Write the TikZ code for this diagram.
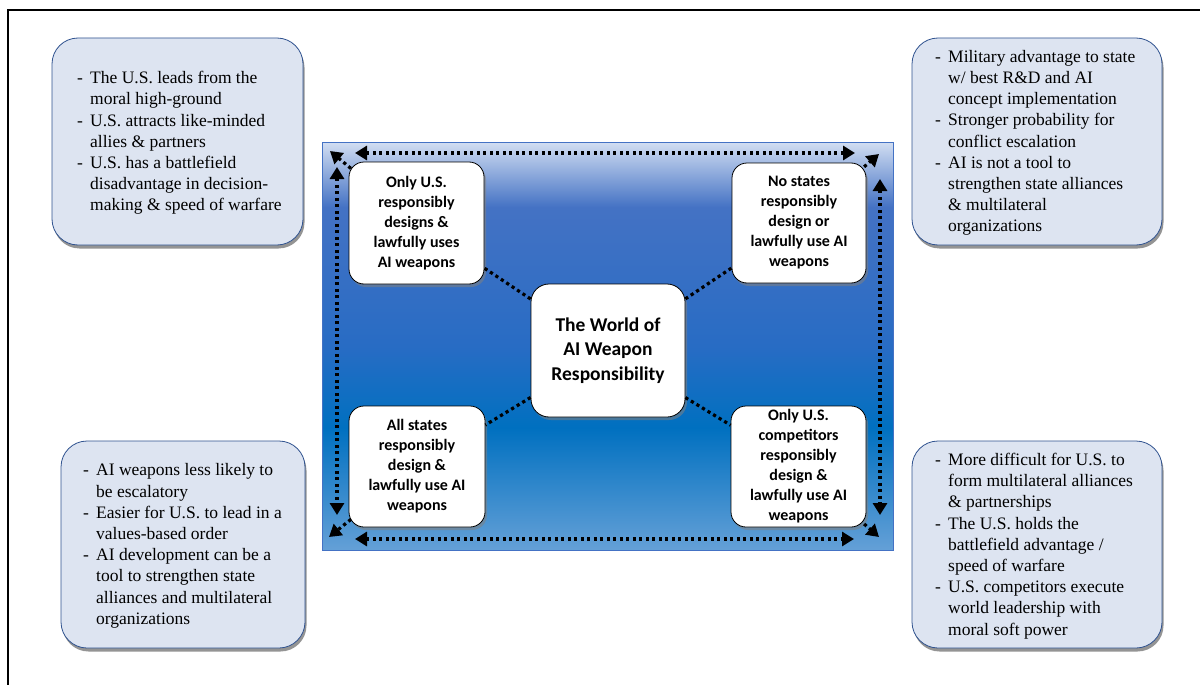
\documentclass[tikz,border=0pt]{standalone}
\usepackage{fontspec}
\setmainfont{Liberation Serif}
\newfontfamily\notefont{Liberation Serif}
\newfontfamily\boxfont{Carlito}
\usepackage{xcolor}
\usepackage{tikz}
\usetikzlibrary{shapes,positioning,arrows.meta,shadows}

\definecolor{notefill}{RGB}{221,228,241}
\definecolor{noteline}{RGB}{47,82,143}
\definecolor{panelbot}{RGB}{100,160,215}
\definecolor{paneldeep}{RGB}{0,112,192}
\definecolor{panelmid}{RGB}{40,108,196}
\definecolor{panelblue}{RGB}{68,114,196}
\definecolor{paneltop}{RGB}{210,222,242}

\pgfdeclareverticalshading{panelshade}{100bp}{color(0bp)=(panelbot); color(25bp)=(panelbot); color(40bp)=(paneldeep); color(50bp)=(panelmid); color(67bp)=(panelblue); color(75bp)=(paneltop); color(100bp)=(paneltop)}

\newcommand{\dashitem}[1]{\makebox[13pt][l]{-}#1}
\newcommand{\cont}[1]{\hspace*{13pt}#1}

\tikzset{note/.style={draw=noteline,line width=0.8pt,fill=notefill,rounded corners=26pt,drop shadow={shadow xshift=1.5pt,shadow yshift=-3.5pt,opacity=0.6,fill=black!70}},
notetext/.style={align=left,inner sep=0pt,anchor=west,font=\notefont\fontsize{17.5}{21.2}\selectfont},
quad/.style={draw,line width=0.8pt,fill=white,rounded corners=15pt,align=center,inner sep=0pt,font=\boxfont\bfseries\fontsize{16}{20}\selectfont,drop shadow={shadow xshift=2pt,shadow yshift=-3pt,opacity=0.55}},
hub/.style={quad,rounded corners=18pt,font=\boxfont\bfseries\fontsize{19.5}{24.5}\selectfont},
dots/.style={line width=3.2pt,dash pattern=on 3.2pt off 3.3pt}}

\begin{document}
\begin{tikzpicture}[x=1pt,y=-1pt,>={Triangle[length=12pt,width=14pt]}]
    \useasboundingbox (0,0) rectangle (1200,685);
    \draw[line width=1.5pt] (8,10) rectangle (1215,700);
    \shadedraw[shading=panelshade,draw=panelblue,line width=0.8pt] (322,142) rectangle (893,550);

    % notes
    \node[note,minimum width=251pt,minimum height=207pt] (tlnote) at (177.5,141.5) {};
    \node[notetext] (tltext) at (77,143) {\dashitem{The U.S. leads from the}\\ \cont{moral high-ground}\\ \dashitem{U.S. attracts like-minded}\\ \cont{allies \& partners}\\ \dashitem{U.S. has a battlefield}\\ \cont{disadvantage in decision-}\\ \cont{making \& speed of warfare}};
    \node[note,minimum width=250pt,minimum height=207pt] (trnote) at (1037,141.5) {};
    \node[notetext] (trtext) at (935,143) {\dashitem{Military advantage to state}\\ \cont{w/ best R\&D and AI}\\ \cont{concept implementation}\\ \dashitem{Stronger probability for}\\ \cont{conflict escalation}\\ \dashitem{AI is not a tool to}\\ \cont{strengthen state alliances}\\ \cont{\& multilateral}\\ \cont{organizations}};
    \node[note,minimum width=244pt,minimum height=207pt] (blnote) at (183,544.5) {};
    \node[notetext] (bltext) at (83,546) {\dashitem{AI weapons less likely to}\\ \cont{be escalatory}\\ \dashitem{Easier for U.S. to lead in a}\\ \cont{values-based order}\\ \dashitem{AI development can be a}\\ \cont{tool to strengthen state}\\ \cont{alliances and multilateral}\\ \cont{organizations}};
    \node[note,minimum width=250pt,minimum height=207pt] (brnote) at (1037,544.5) {};
    \node[notetext] (brtext) at (935,546) {\dashitem{More difficult for U.S. to}\\ \cont{form multilateral alliances}\\ \cont{\& partnerships}\\ \dashitem{The U.S. holds the}\\ \cont{battlefield advantage /}\\ \cont{speed of warfare}\\ \dashitem{U.S. competitors execute}\\ \cont{world leadership with}\\ \cont{moral soft power}};

    % panel boxes
    \node[quad,minimum width=135pt,minimum height=122pt] (tlq) at (416.5,223) {Only U.S.\\responsibly\\designs \&\\lawfully uses\\AI weapons};
    \node[quad,minimum width=134pt,minimum height=120pt] (trq) at (799,223) {No states\\responsibly\\design or\\lawfully use AI\\weapons};
    \node[quad,minimum width=136pt,minimum height=121pt] (blq) at (417,466.5) {All states\\responsibly\\design \&\\lawfully use AI\\weapons};
    \node[quad,minimum width=135pt,minimum height=121pt] (brq) at (798.5,466.5) {Only U.S.\\competitors\\responsibly\\design \&\\lawfully use AI\\weapons};
    \node[hub,minimum width=154pt,minimum height=133pt] (hub) at (608,350.5) {The World of\\AI Weapon\\Responsibility};

    \draw[dots] (hub) -- (tlq);
    \draw[dots] (hub) -- (trq);
    \draw[dots] (hub) -- (blq);
    \draw[dots] (hub) -- (brq);

    % arrows round the panel
    \coordinate (topl) at (355,153);
    \coordinate (topr) at (855,153);
    \coordinate (leftt) at (337,167);
    \coordinate (leftb) at (337,515);
    \coordinate (rightt) at (880,179);
    \coordinate (rightb) at (880,515);
    \coordinate (botl) at (355,539);
    \coordinate (botr) at (854,539);
    \coordinate (ptl) at (330,151);
    \coordinate (ptr) at (879,154);
    \coordinate (pbl) at (329,537);
    \coordinate (pbr) at (879,537);

    \draw[dots,<->] (topl) -- (topr);
    \draw[dots,<->] (botl) -- (botr);
    \draw[dots,<->] (leftt) -- (leftb);
    \draw[dots,<->] (rightt) -- (rightb);
    \draw[dots,->,shorten <=-3pt] (tlq) -- (ptl);
    \draw[dots,->,shorten <=-3pt] (trq) -- (ptr);
    \draw[dots,->,shorten <=-3pt] (blq) -- (pbl);
    \draw[dots,->,shorten <=-3pt] (brq) -- (pbr);
\end{tikzpicture}
\end{document}
